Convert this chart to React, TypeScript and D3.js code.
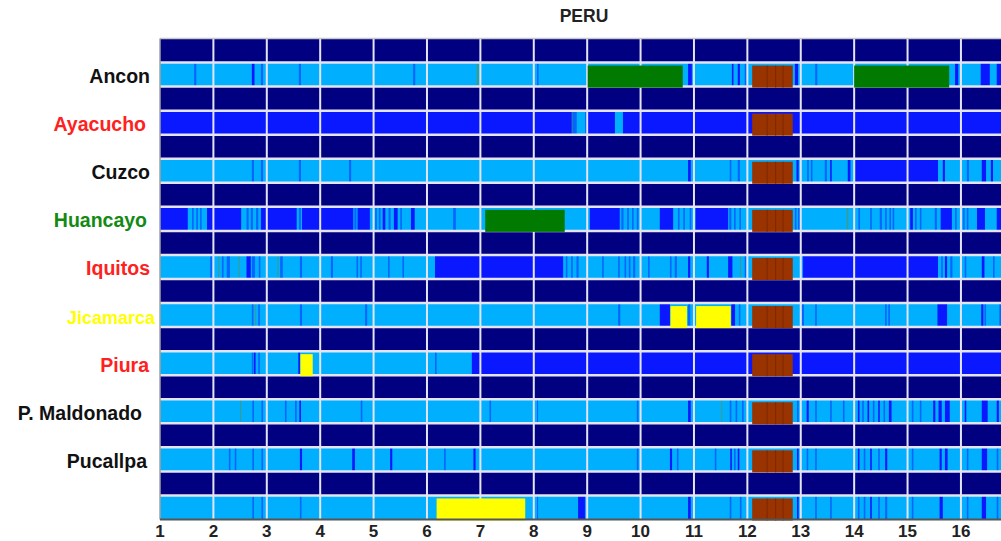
import React from "react";
import * as d3 from "d3";

type Seg = [number, number, string];

const title = "PERU";
const stations = ["Ancon", "Ayacucho", "Cuzco", "Huancayo", "Iquitos", "Jicamarca", "Piura", "P. Maldonado", "Pucallpa", ""];
const labelColors = ["#111", "#ff2020", "#111", "#138a13", "#ff2020", "#ffff00", "#ff2020", "#111", "#111", "#111"];
const ticks = d3.range(1, 17);
const xDomain = [1, 16.75];

// L light, B blue, M mid blue, T teal, G green, R brown, Y yellow, D brown seam
const ancon: Seg[] = [
  [1, 16.75, "L"], [1.64, 1.68, "M"], [2.72, 2.77, "B"], [2.89, 2.93, "M"], [3.6, 3.64, "M"], [5.74, 5.78, "M"],
  [6.93, 6.97, "T"], [8.06, 8.09, "M"], [9.01, 10.79, "G"], [10.89, 10.96, "B"], [11.71, 11.74, "B"],
  [11.82, 11.86, "B"], [11.95, 11.99, "M"], [12.09, 12.85, "R"], [12.89, 12.95, "B"], [13.27, 13.31, "M"],
  [14.0, 15.78, "G"], [15.89, 15.95, "B"], [16.37, 16.54, "B"], [16.67, 16.75, "B"],
];
const ayacucho: Seg[] = [
  [1, 16.75, "B"], [8.71, 8.73, "T"], [8.73, 8.8, "M"], [8.8, 8.97, "L"], [9.52, 9.67, "L"], [12.09, 12.85, "R"],
];
const cuzco: Seg[] = [
  [1, 16.75, "L"], [2.72, 2.76, "M"], [2.89, 2.93, "M"], [3.6, 3.64, "M"], [4.54, 4.58, "M"], [10.89, 10.94, "B"],
  [11.67, 11.7, "M"], [11.82, 11.86, "M"], [12.09, 12.85, "R"], [12.92, 12.96, "B"], [13.12, 13.15, "M"],
  [13.19, 13.22, "M"], [13.45, 13.49, "M"], [13.55, 13.58, "B"], [13.88, 13.93, "B"], [14.02, 15.57, "B"],
  [15.66, 15.7, "B"], [16.11, 16.15, "M"], [16.39, 16.47, "B"], [16.56, 16.6, "B"],
];
const huancayo: Seg[] = [
  [1, 16.75, "L"], [1, 1.52, "B"], [1.6, 1.63, "M"], [1.68, 1.71, "M"], [1.75, 1.78, "M"], [1.88, 2.52, "B"],
  [2.62, 2.66, "M"], [2.7, 2.74, "M"], [2.8, 2.84, "M"], [2.89, 3.56, "B"], [3.6, 3.64, "M"], [3.66, 4.62, "B"],
  [4.64, 4.68, "M"], [4.7, 4.93, "B"], [5.03, 5.06, "M"], [5.1, 5.13, "M"], [5.17, 5.22, "B"], [5.28, 5.32, "M"],
  [5.38, 5.45, "B"], [5.5, 5.53, "M"], [5.7, 5.77, "B"], [6.49, 6.54, "M"], [7.09, 8.58, "G"],
  [9.05, 9.61, "B"], [9.64, 9.68, "M"], [9.75, 9.78, "M"], [9.84, 9.87, "M"], [9.93, 9.96, "M"],
  [10.36, 10.61, "B"], [10.7, 10.73, "M"], [10.8, 10.83, "M"], [10.92, 10.95, "M"], [11.03, 11.64, "B"],
  [11.66, 11.7, "M"], [11.75, 11.78, "M"], [11.85, 11.88, "M"], [12.09, 12.85, "R"], [12.89, 12.92, "M"],
  [12.95, 13.0, "M"], [13.86, 13.89, "T"], [14.08, 14.11, "M"], [14.3, 14.33, "M"], [14.48, 14.52, "M"],
  [14.58, 14.61, "M"], [14.66, 14.69, "M"], [14.72, 14.75, "M"], [15.05, 15.1, "B"], [15.14, 15.17, "M"],
  [15.23, 15.26, "M"], [15.51, 15.55, "M"], [15.62, 15.83, "B"], [15.89, 15.92, "M"], [16.04, 16.07, "M"],
  [16.11, 16.14, "M"], [16.3, 16.45, "B"], [16.67, 16.75, "B"],
];
const iquitos: Seg[] = [
  [1, 16.75, "L"], [1.94, 1.98, "M"], [2.09, 2.11, "T"], [2.16, 2.19, "M"], [2.25, 2.31, "M"], [2.47, 2.49, "T"],
  [2.62, 2.7, "B"], [2.72, 2.78, "M"], [2.85, 2.88, "M"], [3.2, 3.22, "T"], [3.25, 3.3, "M"], [3.62, 3.66, "M"],
  [4.2, 4.24, "M"], [4.68, 4.71, "M"], [4.75, 4.78, "M"], [5.27, 5.3, "M"], [5.54, 5.57, "M"], [6.15, 8.55, "B"],
  [8.6, 8.63, "M"], [8.7, 8.73, "M"], [8.8, 8.84, "M"], [9.28, 9.31, "M"], [9.58, 9.61, "M"], [9.7, 9.73, "M"],
  [9.78, 9.81, "M"], [9.86, 9.9, "M"], [10.14, 10.17, "M"], [10.55, 10.58, "M"], [10.64, 10.68, "M"],
  [10.89, 10.93, "B"], [11.24, 11.28, "B"], [11.64, 11.72, "B"], [11.86, 11.88, "T"], [11.95, 11.98, "M"],
  [12.09, 12.85, "R"], [13.04, 15.57, "B"], [15.63, 15.66, "M"], [15.7, 15.74, "B"], [15.8, 15.84, "M"],
  [16.07, 16.1, "M"], [16.39, 16.44, "B"], [16.6, 16.63, "M"],
];
const jicamarca: Seg[] = [
  [1, 16.75, "L"], [2.72, 2.75, "M"], [2.78, 2.8, "T"], [2.84, 2.87, "M"], [3.62, 3.66, "M"], [4.84, 4.88, "M"],
  [9.58, 9.62, "M"], [10.36, 10.55, "B"], [10.56, 10.87, "Y"], [10.89, 10.93, "M"], [11.04, 11.69, "Y"],
  [11.7, 11.77, "B"], [11.84, 11.87, "M"], [12.09, 12.85, "R"], [13.02, 13.06, "M"], [13.27, 13.3, "M"],
  [14.58, 14.61, "M"], [14.64, 14.67, "M"], [15.56, 15.74, "B"], [16.38, 16.42, "B"], [16.44, 16.47, "M"],
  [16.72, 16.75, "M"],
];
const piura: Seg[] = [
  [1, 16.75, "B"], [1, 6.84, "L"], [2.72, 2.75, "M"], [2.76, 2.79, "B"], [2.84, 2.87, "M"], [3.59, 3.62, "B"],
  [3.63, 3.86, "Y"], [6.15, 6.18, "M"], [12.09, 12.85, "R"],
];
const maldonado: Seg[] = [
  [1, 16.75, "L"], [2.5, 2.52, "T"], [2.73, 2.76, "M"], [2.9, 2.93, "M"], [3.34, 3.37, "M"], [3.53, 3.56, "M"],
  [3.61, 3.64, "B"], [4.76, 4.79, "M"], [7.17, 7.2, "M"], [8.06, 8.08, "M"], [9.93, 9.96, "M"],
  [10.89, 10.94, "B"], [11.51, 11.53, "T"], [11.67, 11.7, "M"], [11.78, 11.81, "M"], [11.9, 11.93, "M"],
  [12.09, 12.85, "R"], [12.93, 12.96, "M"], [13.11, 13.15, "B"], [13.27, 13.3, "M"], [13.55, 13.58, "M"],
  [13.79, 13.82, "M"], [14.07, 14.1, "B"], [14.15, 14.18, "M"], [14.25, 14.28, "B"], [14.35, 14.38, "M"],
  [14.45, 14.48, "B"], [14.55, 14.58, "M"], [14.65, 14.7, "B"], [15.08, 15.11, "M"], [15.23, 15.26, "M"],
  [15.48, 15.52, "B"], [15.58, 15.64, "B"], [15.7, 15.79, "B"], [16.07, 16.1, "B"], [16.39, 16.5, "B"],
  [16.67, 16.71, "B"],
];
const pucallpa: Seg[] = [
  [1, 16.75, "L"], [2.29, 2.32, "M"], [2.4, 2.43, "M"], [2.73, 2.76, "M"], [2.9, 2.93, "M"], [3.62, 3.66, "B"],
  [4.6, 4.65, "B"], [5.31, 5.35, "B"], [6.32, 6.35, "M"], [6.87, 6.91, "B"], [9.93, 9.96, "M"],
  [10.55, 10.59, "B"], [10.68, 10.71, "M"], [11.39, 11.42, "M"], [11.68, 11.71, "B"], [11.75, 11.78, "M"],
  [11.82, 11.85, "B"], [12.09, 12.85, "R"], [12.93, 12.96, "B"], [13.11, 13.14, "M"], [13.27, 13.3, "M"],
  [14.07, 14.1, "B"], [14.18, 14.21, "M"], [14.3, 14.33, "B"], [14.45, 14.48, "M"], [14.58, 14.62, "B"],
  [15.08, 15.11, "M"], [15.6, 15.64, "B"], [15.7, 15.75, "B"], [16.11, 16.14, "M"], [16.39, 16.49, "B"],
  [16.67, 16.7, "M"],
];
const lastRow: Seg[] = [
  [1, 16.75, "L"], [2.73, 2.76, "M"], [2.9, 2.93, "M"], [3.62, 3.65, "M"], [6.18, 7.84, "Y"], [8.06, 8.08, "M"],
  [8.83, 8.96, "B"], [10.89, 10.94, "B"], [11.67, 11.7, "M"], [11.86, 11.89, "M"], [12.09, 12.85, "R"],
  [12.93, 12.96, "B"], [13.27, 13.3, "M"], [13.55, 13.58, "M"], [14.07, 14.1, "M"], [14.18, 14.21, "M"],
  [14.3, 14.33, "B"], [14.45, 14.48, "M"], [14.58, 14.62, "M"], [15.08, 15.11, "M"], [15.6, 15.66, "B"],
  [16.11, 16.14, "M"], [16.39, 16.47, "B"], [16.67, 16.7, "M"],
];
const rows = [ancon, ayacucho, cuzco, huancayo, iquitos, jicamarca, piura, maldonado, pucallpa, lastRow];
const seams = [12.36, 12.52, 12.66];

const colors: Record<string, string> = {
  L: "#00b0ff", B: "#0a18ff", M: "#0066ff", T: "#3c9c8c",
  G: "#007a00", R: "#993300", Y: "#ffff00", D: "#7d2800",
};
const blocks = new Set(["G", "R", "Y"]);

// right edge of each station label, as placed in the original figure
const labelRight = [150, 146, 150, 147, 150, 155, 149, 142, 147, 150];

const App = () => {
  const width = 1001;
  const height = 541;
  const left = 160, top = 38.5, bottom = 519.5;
  const x = d3.scaleLinear().domain(xDomain).range([left, width]);
  const y = d3.scaleBand<number>().domain(d3.range(rows.length * 2)).range([top, bottom]);
  const bh = y.bandwidth();
  const font = "'Liberation Sans', Arial, sans-serif";

  return (
    <svg width={width} height={height} style={{ position: "absolute", left: 0, top: 0 }} fontFamily={font}>
      <rect x={0} y={0} width={width} height={height} fill="white" />
      <text x={584} y={22} textAnchor="middle" fontSize={17.5} fontWeight="bold" fill="#222">{title}</text>
      <rect x={left} y={top} width={width - left} height={bottom - top} fill="#000080" />

      {rows.map((segs, r) => (
        <g key={"row" + r}>
          {segs.filter(s => !blocks.has(s[2])).map((s, i) => (
            <rect key={i} x={x(s[0])} y={y(2 * r + 1)} width={x(s[1]) - x(s[0])} height={bh} fill={colors[s[2]]} />
          ))}
        </g>
      ))}

      {ticks.slice(1).map(t => (
        <line key={"v" + t} x1={x(t)} x2={x(t)} y1={top} y2={bottom} stroke="#e4e4f4" strokeWidth={2} />
      ))}
      {d3.range(1, rows.length * 2).map(i => (
        <line key={"h" + i} x1={left} x2={width} y1={y(i)} y2={y(i)} stroke="#e4e4f4" strokeWidth={2.5} />
      ))}

      {rows.map((segs, r) => (
        <g key={"blk" + r}>
          {segs.filter(s => blocks.has(s[2])).map((s, i) => (
            <g key={i}>
              <rect x={x(s[0])} y={y(2 * r + 1) + 3} width={x(s[1]) - x(s[0])} height={bh - 2} fill={colors[s[2]]} />
              {s[2] === "R" && seams.map(v => (
                <rect key={v} x={x(v)} y={y(2 * r + 1) + 3} width={1} height={bh - 2} fill={colors.D} />
              ))}
            </g>
          ))}
        </g>
      ))}

      <line x1={left} x2={width} y1={top} y2={top} stroke="#c8c8c8" strokeWidth={1.5} />
      <line x1={left} x2={left} y1={top} y2={bottom} stroke="#a0a0a0" strokeWidth={1.5} />
      <line x1={left} x2={width} y1={bottom} y2={bottom} stroke="#555" strokeWidth={2} />

      {stations.map((s, r) => (
        <text key={s + r} x={labelRight[r]} y={y(2 * r + 1)! + bh / 2 + 8.5} textAnchor="end"
          fontSize={s === "Jicamarca" ? 18 : 19.5} fontWeight="bold" fill={labelColors[r]}>{s}</text>
      ))}

      {ticks.map(t => (
        <text key={"t" + t} x={x(t)} y={537} textAnchor="middle" fontSize={17} fontWeight="bold" fill="#222">{t}</text>
      ))}
    </svg>
  );
};

export default App;
